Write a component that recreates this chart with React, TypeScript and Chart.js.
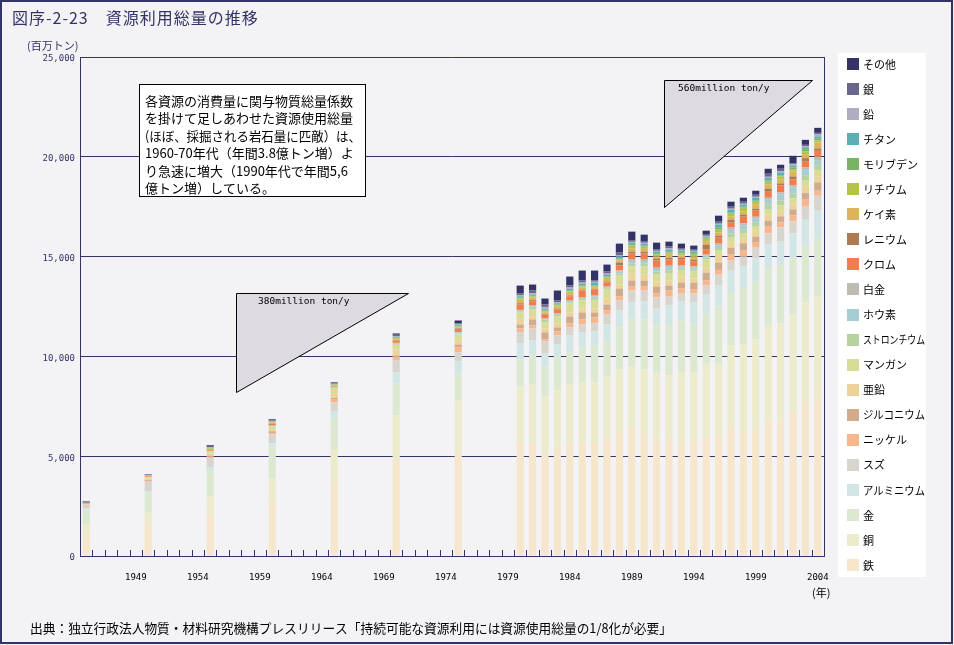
import React, { useEffect, useRef } from 'react';
import { Chart, registerables } from 'chart.js';

Chart.register(...registerables);

// ---------- categories / ticks ----------
const categories = [
  '1945', '1946', '1947', '1948', '1949', '1950', '1951', '1952', '1953', '1954',
  '1955', '1956', '1957', '1958', '1959', '1960', '1961', '1962', '1963', '1964',
  '1965', '1966', '1967', '1968', '1969', '1970', '1971', '1972', '1973', '1974',
  '1975', '1976', '1977', '1978', '1979', '1980', '1981', '1982', '1983', '1984',
  '1985', '1986', '1987', '1988', '1989', '1990', '1991', '1992', '1993', '1994',
  '1995', '1996', '1997', '1998', '1999', '2000', '2001', '2002', '2003', '2004',
];
const barYears = [
  '1945', '1950', '1955', '1960', '1965', '1970', '1975',
  '1980', '1981', '1982', '1983', '1984', '1985', '1986', '1987', '1988', '1989',
  '1990', '1991', '1992', '1993', '1994', '1995', '1996', '1997', '1998', '1999',
  '2000', '2001', '2002', '2003', '2004',
];
const xTickLabels = ['1949', '1954', '1959', '1964', '1969', '1974', '1979', '1984', '1989', '1994', '1999', '2004'];

// ---------- series values (百万トン), one value per bar year ----------
const iron = [933, 1600, 2100, 2767, 3700, 4767, 5133, 5717, 5667, 5133, 5433, 5667, 5717, 5667, 5917, 6267, 6317, 6117, 5817, 5817, 5717, 5717, 5967, 5933, 6383, 6217, 6300, 6833, 6800, 7217, 7717, 7917];
const copper = [667, 600, 900, 1150, 1600, 2283, 2667, 2783, 2950, 2867, 2867, 2950, 3000, 3050, 3083, 3083, 3133, 3233, 3333, 3233, 3483, 3483, 3683, 3700, 4167, 4383, 4550, 4717, 4867, 4883, 5000, 5083];
const gold = [700, 933, 1217, 1533, 1600, 1583, 1300, 1333, 1433, 1450, 1650, 1583, 1733, 1833, 1800, 2100, 2400, 2500, 2400, 2550, 2600, 2450, 2500, 2867, 2667, 2817, 2900, 2867, 2917, 2867, 2833, 2917];
const aluminium = [67, 117, 233, 200, 350, 567, 650, 817, 750, 700, 650, 850, 750, 700, 800, 850, 850, 900, 850, 950, 950, 1050, 950, 1050, 1083, 1083, 1167, 1217, 1167, 1200, 1300, 1383];
const tin = [100, 467, 467, 450, 450, 600, 450, 550, 600, 600, 450, 400, 400, 400, 500, 500, 600, 550, 550, 450, 400, 450, 450, 550, 500, 500, 533, 533, 717, 600, 650, 750];
const nickel = [50, 33, 83, 67, 167, 133, 250, 200, 150, 100, 200, 200, 250, 300, 200, 200, 200, 200, 200, 300, 250, 200, 250, 233, 300, 300, 250, 333, 250, 300, 350, 250];
const zirconium = [15, 50, 30, 83, 50, 117, 150, 200, 300, 350, 200, 350, 350, 250, 300, 400, 300, 300, 350, 250, 300, 350, 400, 367, 350, 367, 300, 300, 300, 300, 333, 417];
const zinc = [20, 67, 100, 100, 200, 300, 233, 233, 167, 200, 200, 200, 200, 200, 300, 200, 350, 300, 250, 250, 300, 200, 250, 383, 250, 250, 300, 300, 300, 300, 317, 283];
const manganese = [25, 67, 100, 133, 300, 233, 267, 367, 333, 300, 350, 450, 400, 400, 450, 450, 350, 400, 350, 350, 300, 350, 400, 217, 250, 250, 200, 250, 250, 250, 300, 333];
const strontium = [10, 10, 15, 20, 15, 40, 50, 40, 80, 150, 80, 70, 70, 120, 70, 100, 150, 150, 150, 170, 110, 110, 110, 130, 217, 200, 200, 250, 250, 250, 250, 250];
const boron = [10, 10, 15, 20, 15, 40, 50, 50, 70, 25, 40, 50, 50, 80, 50, 100, 130, 130, 130, 150, 90, 90, 90, 120, 217, 200, 200, 250, 300, 300, 300, 217];
const platinum = [5, 5, 10, 10, 10, 20, 20, 40, 50, 25, 30, 30, 30, 50, 30, 50, 70, 70, 70, 80, 50, 50, 50, 100, 100, 100, 100, 100, 100, 100, 133, 200];
const chromium = [15, 25, 40, 100, 40, 100, 150, 267, 217, 200, 200, 200, 350, 300, 200, 250, 300, 300, 350, 300, 300, 250, 250, 300, 217, 333, 300, 300, 350, 300, 300, 300];
const rhenium = [5, 5, 10, 10, 10, 20, 30, 67, 50, 30, 40, 50, 40, 30, 50, 150, 100, 100, 100, 100, 100, 100, 250, 100, 150, 100, 100, 150, 100, 150, 150, 117];
const silicon = [15, 20, 40, 40, 40, 60, 60, 167, 133, 80, 100, 130, 110, 90, 130, 110, 170, 140, 110, 140, 110, 140, 170, 150, 150, 150, 200, 200, 200, 250, 200, 300];
const lithium = [5, 15, 30, 30, 30, 50, 40, 67, 50, 50, 70, 80, 60, 50, 80, 60, 130, 110, 90, 110, 90, 110, 130, 150, 150, 200, 150, 150, 150, 100, 150, 100];
const molybdenum = [8, 8, 15, 15, 15, 30, 30, 50, 40, 40, 40, 40, 40, 30, 40, 30, 70, 70, 70, 70, 70, 70, 50, 100, 50, 50, 50, 50, 50, 100, 100, 100];
const titanium = [8, 8, 15, 20, 15, 40, 50, 67, 60, 60, 60, 80, 90, 150, 80, 100, 80, 80, 80, 80, 80, 80, 50, 150, 150, 100, 150, 150, 150, 100, 100, 100];
const lead = [12, 15, 30, 20, 20, 40, 30, 50, 70, 120, 60, 70, 60, 40, 70, 80, 40, 40, 40, 60, 40, 40, 40, 50, 50, 50, 50, 50, 50, 50, 50, 117];
const silver = [60, 25, 60, 32, 33, 60, 40, 83, 130, 120, 80, 100, 100, 60, 100, 120, 60, 60, 60, 90, 60, 60, 60, 100, 100, 100, 100, 150, 133, 50, 67, 67];
const other = [20, 20, 40, 50, 40, 67, 150, 400, 300, 300, 500, 450, 500, 500, 350, 450, 450, 350, 350, 250, 250, 200, 200, 300, 250, 200, 200, 250, 200, 383, 250, 250];

// ---------- texts ----------
const TITLE = '図序-2-23　資源利用総量の推移';
const Y_UNIT = '(百万トン)';
const X_UNIT = '(年)';
const SOURCE = '出典：独立行政法人物質・材料研究機構プレスリリース「持続可能な資源利用には資源使用総量の1/8化が必要」';
const NOTE_LINES = [
  '各資源の消費量に関与物質総量係数',
  'を掛けて足しあわせた資源使用総量',
  '(ほぼ、採掘される岩石量に匹敵）は、',
  '1960-70年代（年間3.8億トン増）よ',
  'り急速に増大（1990年代で年間5,6',
  '億トン増）している。',
];
const TRI_SMALL_TEXT = '380million ton/y';
const TRI_BIG_TEXT = '560million ton/y';

// ---------- styles ----------
const NAVY = '#333366';
const BG = '#f3f3f6';
const CJK = '"Noto Sans CJK JP", "Noto Sans", sans-serif';
const MONO = '"DejaVu Sans Mono", monospace';

const seriesTable = [
  { label: '鉄', values: iron, color: '#f5e6cc' },
  { label: '銅', values: copper, color: '#ecebcb' },
  { label: '金', values: gold, color: '#dce8d0' },
  { label: 'アルミニウム', values: aluminium, color: '#d2e6e6' },
  { label: 'スズ', values: tin, color: '#d8d5ce' },
  { label: 'ニッケル', values: nickel, color: '#f7b68c' },
  { label: 'ジルコニウム', values: zirconium, color: '#d0ab8c' },
  { label: '亜鉛', values: zinc, color: '#ecd398' },
  { label: 'マンガン', values: manganese, color: '#d7dc96' },
  { label: 'ストロンチウム', values: strontium, color: '#b6d2a0' },
  { label: 'ホウ素', values: boron, color: '#a6cdd2' },
  { label: '白金', values: platinum, color: '#bebcb2' },
  { label: 'クロム', values: chromium, color: '#f07d4b' },
  { label: 'レニウム', values: rhenium, color: '#ad7b52' },
  { label: 'ケイ素', values: silicon, color: '#dcb45a' },
  { label: 'リチウム', values: lithium, color: '#b4c44b' },
  { label: 'モリブデン', values: molybdenum, color: '#78b464' },
  { label: 'チタン', values: titanium, color: '#5bb0b4' },
  { label: '鉛', values: lead, color: '#b2acc2' },
  { label: '銀', values: silver, color: '#69678c' },
  { label: 'その他', values: other, color: '#333366' },
];

function toCategoryData(values: number[]): (number | null)[] {
  return categories.map((c) => {
    const i = barYears.indexOf(c);
    return i >= 0 ? values[i] : null;
  });
}

const decorPlugin = {
  id: 'decor',
  beforeDraw(chart: any) {
    const ctx = chart.ctx;
    ctx.save();
    ctx.fillStyle = BG;
    ctx.fillRect(0, 0, chart.width, chart.height);
    ctx.restore();
  },
  afterDraw(chart: any) {
    const { ctx, chartArea, scales } = chart;
    const xs = scales.x;
    ctx.save();

    // right border of plot
    ctx.strokeStyle = NAVY;
    ctx.lineWidth = 1;
    ctx.beginPath();
    ctx.moveTo(Math.round(chartArea.right) + 0.5, chartArea.top);
    ctx.lineTo(Math.round(chartArea.right) + 0.5, chartArea.bottom);
    ctx.stroke();

    // inward tick marks at category boundaries
    ctx.beginPath();
    for (let i = 1; i < categories.length; i++) {
      const px = Math.round((xs.getPixelForValue(i - 1) + xs.getPixelForValue(i)) / 2) + 0.5;
      ctx.moveTo(px, chartArea.bottom - 6);
      ctx.lineTo(px, chartArea.bottom);
    }
    ctx.stroke();

    // title
    ctx.fillStyle = NAVY;
    ctx.textBaseline = 'middle';
    ctx.textAlign = 'left';
    ctx.font = `16px ${CJK}`;
    (ctx as any).letterSpacing = '1px';
    ctx.fillText(TITLE, 12, 18);
    (ctx as any).letterSpacing = '0px';

    // units
    ctx.font = `11px ${CJK}`;
    ctx.fillText(Y_UNIT, 27, 46);
    ctx.fillStyle = '#000';
    ctx.fillText(X_UNIT, 812, 593);

    // source
    ctx.font = `13px ${CJK}`;
    ctx.fillText(SOURCE, 30, 628, 642);

    // note box
    ctx.fillStyle = '#ffffff';
    ctx.fillRect(139.5, 84.5, 226, 112);
    ctx.strokeStyle = '#000';
    ctx.lineWidth = 1;
    ctx.strokeRect(139.5, 84.5, 226, 112);
    ctx.fillStyle = '#000';
    ctx.font = `13px ${CJK}`;
    NOTE_LINES.forEach((line, i) => {
      ctx.fillText(line, 145, 101 + i * 17.4, 216);
    });

    // triangles (growth annotations)
    const tri = (x0: number, y0: number, x1: number, y1: number, text: string, tx: number, ty: number) => {
      ctx.beginPath();
      ctx.moveTo(x0, y0);
      ctx.lineTo(x1, y0);
      ctx.lineTo(x0, y1);
      ctx.closePath();
      ctx.fillStyle = '#dedae2';
      ctx.fill();
      ctx.strokeStyle = '#000';
      ctx.lineWidth = 1;
      ctx.stroke();
      ctx.fillStyle = '#000';
      ctx.font = `9.5px ${MONO}`;
      ctx.fillText(text, tx, ty);
    };
    tri(236.5, 293.5, 408.5, 392.5, TRI_SMALL_TEXT, 258, 302);
    tri(664.5, 80.5, 812.5, 207.5, TRI_BIG_TEXT, 678, 89);

    // legend (top item = top of stack)
    ctx.fillStyle = '#ffffff';
    ctx.fillRect(838, 53, 88, 524);
    const items = chart.data.datasets.slice().reverse();
    ctx.font = `11px ${CJK}`;
    items.forEach((ds: any, i: number) => {
      const cy = 64 + i * 25.05;
      ctx.fillStyle = ds.backgroundColor;
      ctx.fillRect(847, Math.round(cy - 6), 12, 12);
      ctx.fillStyle = '#000';
      ctx.fillText(ds.label, 863, cy + 0.5, 62);
    });

    // outer frame
    ctx.strokeStyle = NAVY;
    ctx.lineWidth = 2;
    ctx.strokeRect(1, 1, chart.width - 3, chart.height - 3);

    ctx.restore();
  },
};

export default function App() {
  const ref = useRef<HTMLCanvasElement | null>(null);

  useEffect(() => {
    document.body.style.margin = '0';
    document.body.style.overflow = 'hidden';
    const canvas = ref.current;
    if (!canvas) return;
    const chart = new Chart(canvas, {
      type: 'bar',
      data: {
        labels: categories,
        datasets: seriesTable.map((s) => ({
          label: s.label,
          data: toCategoryData(s.values),
          backgroundColor: s.color,
          borderWidth: 0,
          barPercentage: 0.58,
          categoryPercentage: 1,
        })),
      },
      options: {
        responsive: false,
        animation: false,
        devicePixelRatio: 1,
        layout: { padding: { left: 0, right: 130, top: 57, bottom: 59 } },
        plugins: {
          legend: { display: false },
          tooltip: { enabled: false },
          title: { display: false },
        },
        scales: {
          x: {
            stacked: true,
            grid: { display: false, drawTicks: false },
            border: { display: true, color: NAVY, width: 1 },
            ticks: {
              autoSkip: false,
              maxRotation: 0,
              minRotation: 0,
              padding: 16,
              color: '#000',
              font: { family: MONO, size: 9 },
              callback: (_v: any, i: number) => (xTickLabels.includes(categories[i]) ? categories[i] : ''),
            },
            afterFit: (s: any) => {
              s.height = 30;
            },
          },
          y: {
            stacked: true,
            min: 0,
            max: 25000,
            ticks: {
              stepSize: 5000,
              color: NAVY,
              padding: 5,
              labelOffset: 2,
              font: { family: MONO, size: 9 },
              callback: (v: any) => Number(v).toLocaleString('en-US'),
            },
            grid: { color: NAVY, lineWidth: 1, drawTicks: false },
            border: { display: true, color: NAVY, width: 1 },
            afterFit: (s: any) => {
              s.width = 80;
            },
          },
        },
      } as any,
      plugins: [decorPlugin],
    });
    return () => chart.destroy();
  }, []);

  return (
    <div style={{ width: 954, height: 645 }}>
      <canvas ref={ref} width={954} height={645} style={{ display: 'block', width: 954, height: 645 }} />
    </div>
  );
}
